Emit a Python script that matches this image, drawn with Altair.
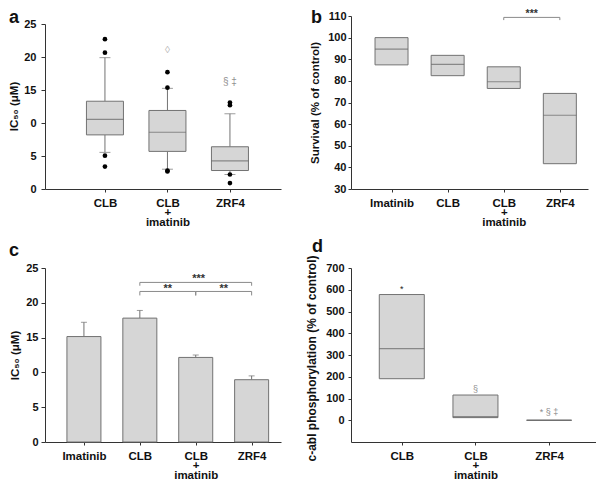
import altair as alt
import pandas as pd

FONT = "Liberation Sans"
BOX_FILL = "#d6d6d6"
BOX_STROKE = "#727272"
AX = "#333333"

# ---------------- Panel a : IC50 box plots ----------------
a_groups = ["CLB", "CLB\n+\nimatinib", "ZRF4"]
a_whisker_low = [5.55, 3.0, 2.2]
a_q1 = [8.2, 5.7, 2.8]
a_median = [10.55, 8.6, 4.25]
a_q3 = [13.3, 11.9, 6.4]
a_whisker_high = [19.9, 15.25, 11.4]
a_outlier_group = ["CLB"] * 4 + ["CLB\n+\nimatinib"] * 4 + ["ZRF4"] * 4
a_outlier_value = [22.7, 20.65, 5.05, 3.4, 17.7, 15.35, 2.8, 2.65, 13.1, 12.7, 2.2, 0.9]
a_note_group = ["CLB\n+\nimatinib", "ZRF4"]
a_note_value = [20.6, 15.7]
a_note_text = ["◊", "§ ‡"]
a_note_color = ["#b5b5b5", "#8f8f8f"]

# ---------------- Panel b : survival boxes ----------------
b_groups = ["Imatinib", "CLB", "CLB\n+\nimatinib", "ZRF4"]
b_low = [87.4, 82.4, 76.5, 41.7]
b_median = [94.7, 87.6, 79.6, 64.1]
b_high = [100.0, 91.8, 86.5, 74.2]
b_bracket_from = ["CLB\n+\nimatinib"]
b_bracket_to = ["ZRF4"]
b_bracket_y = [109.35]
b_bracket_drop = [108.1]
b_star_value = [109.6]
b_star_text = ["***"]

# ---------------- Panel c : IC50 bars ----------------
c_groups = ["Imatinib", "CLB", "CLB\n+\nimatinib", "ZRF4"]
c_mean = [15.15, 17.8, 12.15, 8.95]
c_err_top = [17.2, 18.9, 12.5, 9.5]
c_bracket_from = ["CLB", "CLB\n+\nimatinib", "CLB"]
c_bracket_to = ["CLB\n+\nimatinib", "ZRF4", "ZRF4"]
c_bracket_y = [21.63, 21.63, 22.93]
c_bracket_drop = [21.06, 21.06, 22.45]
c_pair_star_group = ["CLB", "CLB\n+\nimatinib"]
c_pair_star_value = [21.5, 21.5]
c_pair_star_text = ["**", "**"]
c_wide_star_group = ["CLB\n+\nimatinib"]
c_wide_star_value = [23.0]
c_wide_star_text = ["***"]

# ---------------- Panel d : c-abl phosphorylation ----------------
d_groups = ["CLB", "CLB\n+\nimatinib", "ZRF4"]
d_low = [191, 12, 0]
d_median = [329, 17, 0]
d_high = [578, 116, 0]
d_note_group = ["CLB", "CLB\n+\nimatinib", "ZRF4"]
d_note_value = [590, 132, 26]
d_note_text = ["*", "§", "* § ‡"]
d_note_color = ["#222222", "#8f8f8f", "#8a8a8a"]


def xaxis():
    return alt.Axis(title=None, labelAngle=0, labelExpr="split(datum.label, '\\n')",
                    labelLineHeight=9.5, tickSize=3, labelPadding=5, labelFontSize=11.5)


def yaxis(title, values, tx, ty, expr=None, tick=4, pad=3, tsize=11.5):
    kw = dict(title=title, values=values, titleX=tx, titleY=ty, titleAngle=-90,
              titleAlign="center", titleBaseline="middle", tickSize=tick, labelPadding=pad,
              titleFontSize=tsize)
    if expr:
        kw["labelExpr"] = expr
    return alt.Axis(**kw)


def letter(ch, x, y):
    return alt.Chart(pd.DataFrame({"t": [ch]})).mark_text(
        font=FONT, fontSize=18, fontWeight="bold", align="left", baseline="alphabetic", color="#111"
    ).encode(x=alt.value(x), y=alt.value(y), text="t:N")


def panel_box(groups, low, median, high, xs, ys, yax, width, wl=None, wh=None):
    df = pd.DataFrame({"g": groups, "low": low, "median": median, "high": high})
    X = lambda: alt.X("g:N", scale=xs, axis=xaxis(), sort=groups)
    Y = lambda f: alt.Y(f + ":Q", scale=ys, axis=yax)
    layers = []
    if wl is not None:
        df["wl"] = wl
        df["wh"] = wh
        base = alt.Chart(df)
        layers += [
            base.mark_rule(color=BOX_STROKE).encode(x=X(), y=Y("wl"), y2="low:Q"),
            base.mark_rule(color=BOX_STROKE).encode(x=X(), y=Y("high"), y2="wh:Q"),
            base.mark_tick(color=BOX_STROKE, size=11, thickness=1).encode(x=X(), y=Y("wl")),
            base.mark_tick(color=BOX_STROKE, size=11, thickness=1).encode(x=X(), y=Y("wh")),
        ]
    base = alt.Chart(df)
    layers += [
        base.mark_bar(size=width, fill=BOX_FILL, stroke=BOX_STROKE, strokeWidth=1).encode(
            x=X(), y=Y("low"), y2="high:Q"),
        base.mark_tick(color="#666666", size=width, thickness=1.2).encode(x=X(), y=Y("median")),
    ]
    return layers, X, Y


# ---- a
xs_a = alt.Scale(type="point", domain=a_groups, padding=0.888, align=0.54)
ys_a = alt.Scale(domain=[0, 25], range=[173, 8], nice=False, zero=False)
yax_a = yaxis("IC₅₀ (μM)", [0, 5, 10, 15, 20, 25], -30.5, 90,
              expr="datum.value == 10 ? '0' : datum.label", tick=4, pad=5)
la, Xa, Ya = panel_box(a_groups, a_q1, a_median, a_q3, xs_a, ys_a, yax_a, 37,
                       wl=a_whisker_low, wh=a_whisker_high)
out_a = pd.DataFrame({"g": a_outlier_group, "v": a_outlier_value})
la.append(alt.Chart(out_a).mark_circle(size=22, color="#000", opacity=1).encode(x=Xa(), y=Ya("v")))
for g, v, t, c in zip(a_note_group, a_note_value, a_note_text, a_note_color):
    la.append(alt.Chart(pd.DataFrame({"g": [g], "v": [v], "t": [t]})).mark_text(
        font=FONT, fontSize=10, color=c, baseline="alphabetic").encode(x=Xa(), y=Ya("v"), text="t:N"))
la.append(letter("a", -36, 7))
chart_a = alt.layer(*la).properties(width=236, height=173)

# ---- b
xs_b = alt.Scale(type="point", domain=b_groups, padding=0.612, align=0.59)
ys_b = alt.Scale(domain=[30, 110], nice=False, zero=False)
yax_b = yaxis("Survival (% of control)", list(range(30, 111, 10)), -36, 86.5, tick=3, pad=2)
lb, Xb, Yb = panel_box(b_groups, b_low, b_median, b_high, xs_b, ys_b, yax_b, 33)
br_b = pd.DataFrame({"g": b_bracket_from, "g2": b_bracket_to, "y": b_bracket_y, "d": b_bracket_drop})
lb.append(alt.Chart(br_b).mark_rule(color="#8a8a8a").encode(x=Xb(), x2="g2:N", y=Yb("y")))
ends_b = pd.DataFrame({"g": b_bracket_from + b_bracket_to, "y": b_bracket_y * 2, "d": b_bracket_drop * 2})
lb.append(alt.Chart(ends_b).mark_rule(color="#8a8a8a").encode(x=Xb(), y=Yb("y"), y2="d:Q"))
lb.append(alt.Chart(pd.DataFrame({"g": b_bracket_from, "v": b_star_value, "t": b_star_text})).mark_text(
    font=FONT, fontSize=10.5, fontWeight="bold", color="#333", dx=28, baseline="alphabetic"
).encode(x=Xb(), y=Yb("v"), text="t:N"))
lb.append(letter("b", -40, 7))
chart_b = alt.layer(*lb).properties(width=237, height=173)

# ---- c
xs_c = alt.Scale(type="point", domain=c_groups, padding=0.611, align=0.57)
ys_c = alt.Scale(domain=[0, 25], nice=False)
yax_c = yaxis("IC₅₀ (μM)", [0, 5, 10, 15, 20, 25], -30, 87,
              expr="datum.value == 10 ? '0' : datum.label", tick=4, pad=3)
df_c = pd.DataFrame({"g": c_groups, "m": c_mean, "e": c_err_top})
Xc = lambda: alt.X("g:N", scale=xs_c, axis=xaxis(), sort=c_groups)
Yc = lambda f: alt.Y(f + ":Q", scale=ys_c, axis=yax_c)
lc = [
    alt.Chart(df_c).mark_rule(color=BOX_STROKE).encode(x=Xc(), y=Yc("m"), y2="e:Q"),
    alt.Chart(df_c).mark_tick(color=BOX_STROKE, size=6, thickness=1).encode(x=Xc(), y=Yc("e")),
    alt.Chart(df_c).mark_bar(size=34, fill=BOX_FILL, stroke=BOX_STROKE, strokeWidth=1).encode(x=Xc(), y=Yc("m")),
]
br_c = pd.DataFrame({"g": c_bracket_from, "g2": c_bracket_to, "y": c_bracket_y, "d": c_bracket_drop})
lc.append(alt.Chart(br_c).mark_rule(color="#8a8a8a").encode(x=Xc(), x2="g2:N", y=Yc("y")))
ends_c = pd.DataFrame({"g": c_bracket_from + c_bracket_to, "y": c_bracket_y * 2, "d": c_bracket_drop * 2})
lc.append(alt.Chart(ends_c).mark_rule(color="#8a8a8a").encode(x=Xc(), y=Yc("y"), y2="d:Q"))
lc.append(alt.Chart(pd.DataFrame({"g": c_pair_star_group, "v": c_pair_star_value, "t": c_pair_star_text})).mark_text(
    font=FONT, fontSize=11, fontWeight="bold", color="#333", dx=28, baseline="alphabetic"
).encode(x=Xc(), y=Yc("v"), text="t:N"))
lc.append(alt.Chart(pd.DataFrame({"g": c_wide_star_group, "v": c_wide_star_value, "t": c_wide_star_text})).mark_text(
    font=FONT, fontSize=11, fontWeight="bold", color="#333", dx=3, baseline="alphabetic"
).encode(x=Xc(), y=Yc("v"), text="t:N"))
lc.append(letter("c", -36, -12))
chart_c = alt.layer(*lc).properties(width=236, height=174)

# ---- d
xs_d = alt.Scale(type="point", domain=d_groups, padding=0.663, align=0.52)
ys_d = alt.Scale(domain=[-100, 700], nice=False, zero=False)
yax_d = yaxis("c-abl phosphorylation (% of control)", list(range(0, 701, 100)), -40, 90,
              tick=3, pad=4, tsize=12)
ld, Xd, Yd = panel_box(d_groups, d_low, d_median, d_high, xs_d, ys_d, yax_d, 45)
for g, v, t, c in zip(d_note_group, d_note_value, d_note_text, d_note_color):
    ld.append(alt.Chart(pd.DataFrame({"g": [g], "v": [v], "t": [t]})).mark_text(
        font=FONT, fontSize=9, color=c, baseline="alphabetic").encode(x=Xd(), y=Yd("v"), text="t:N"))
ld.append(letter("d", -39, -16))
chart_d = alt.layer(*ld).properties(width=245, height=174)

chart = alt.concat(
    chart_a, chart_b, chart_c, chart_d, columns=2, bounds="flush",
    spacing={"row": 79, "column": 70}
).properties(padding=0).configure_view(
    stroke=None
).configure_axis(
    domainColor=AX, tickColor=AX, labelColor="#111", labelFont=FONT, labelFontSize=11,
    labelFontWeight="bold", titleFont=FONT, titleFontSize=11.5, titleFontWeight="bold",
    titleColor="#111", grid=False
)

chart.save("out.html", embed_options={"renderer": "svg", "actions": False})
